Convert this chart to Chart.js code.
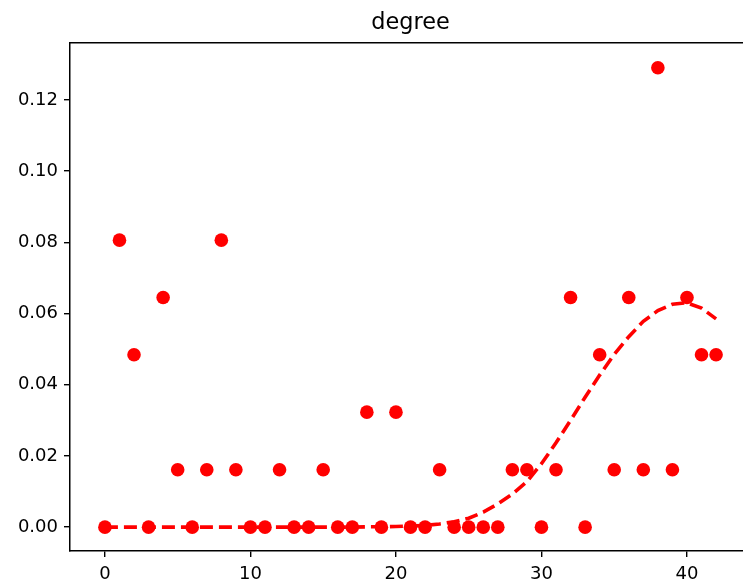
<!DOCTYPE html>
<html>
<head>
<meta charset="utf-8">
<script src="https://cdn.jsdelivr.net/npm/chart.js@4/dist/chart.umd.min.js"></script>
<style>
  html, body { margin: 0; padding: 0; background: #fff; overflow: hidden; }
  #wrap { position: relative; width: 760px; height: 583px; }
</style>
</head>
<body>
<div id="wrap"><canvas id="c"></canvas></div>
<script>
const degrees = [0,1,2,3,4,5,6,7,8,9,10,11,12,13,14,15,16,17,18,19,20,21,22,23,24,25,26,27,28,29,30,31,32,33,34,35,36,37,38,39,40,41,42];
const observed = [0,0.0806,0.0484,0,0.0645,0.0161,0,0.0161,0.0806,0.0161,0,0,0.0161,0,0,0.0161,0,0,0.0323,0,0.0323,0,0,0.0161,0,0,0,0,0.0161,0.0161,0,0.0161,0.0645,0,0.0484,0.0161,0.0645,0.0161,0.129,0.0161,0.0645,0.0484,0.0484];
const fitted = [0,0,0,0,0,0,0,0,0,0,0,0,0,0,0,0,0,0,0.0001,0.0001,0.0002,0.0003,0.0005,0.0009,0.0015,0.0025,0.0042,0.0065,0.0093,0.0128,0.0178,0.0237,0.0300,0.0365,0.0427,0.0485,0.0535,0.0578,0.0608,0.0626,0.0630,0.0615,0.0585];
const xTicks = [0,10,20,30,40];
const yTicks = [0,0.02,0.04,0.06,0.08,0.10,0.12];
const titleText = 'degree';

const FONT = 'DejaVu Sans';
const pts = degrees.map((d,i)=>({x:d, y:observed[i]}));
const fitPts = degrees.map((d,i)=>({x:d, y:fitted[i]}));

new Chart(document.getElementById('c'), {
  type: 'scatter',
  data: {
    datasets: [
      {
        label: 'fit',
        data: fitPts,
        showLine: true,
        borderColor: '#ff0000',
        borderWidth: 3.6,
        borderDash: [13, 6],
        pointRadius: 0,
        tension: 0,
        fill: false,
        order: 0
      },
      {
        label: 'observed',
        data: pts,
        backgroundColor: '#ff0000',
        borderColor: '#ff0000',
        borderWidth: 0,
        pointRadius: 6.8,
        pointHoverRadius: 6.8,
        order: 1
      }
    ]
  },
  options: {
    responsive: true,
    maintainAspectRatio: false,
    animation: false,
    layout: { padding: { left: 0, right: 9, top: 0, bottom: 0 } },
    plugins: {
      legend: { display: false },
      tooltip: { enabled: false },
      title: {
        display: true,
        fullSize: false,
        text: titleText,
        color: '#000',
        font: { family: FONT, size: 22.4, weight: 'normal' },
        padding: { top: 10, bottom: 6 }
      }
    },
    scales: {
      x: {
        type: 'linear',
        position: 'bottom',
        min: -2.4,
        max: 44.4,
        afterBuildTicks: (s) => { s.ticks = xTicks.map(v => ({ value: v })); },
        afterFit: (s) => { s.height = 32; },
        ticks: {
          color: '#000',
          font: { family: FONT, size: 18 },
          padding: 7,
          maxRotation: 0,
          callback: (v) => String(v)
        },
        grid: { display: true, drawOnChartArea: false, drawTicks: true, tickLength: 6, color: '#000', lineWidth: 1.4 },
        border: { display: true, color: '#000', width: 1.5 }
      },
      x2: {
        type: 'linear',
        position: 'top',
        min: -2.4,
        max: 44.4,
        afterFit: (s) => { s.height = 0; },
        ticks: { display: false },
        grid: { display: false },
        border: { display: true, color: '#000', width: 1.5 }
      },
      y: {
        type: 'linear',
        position: 'left',
        min: -0.0067,
        max: 0.136,
        afterBuildTicks: (s) => { s.ticks = yTicks.map(v => ({ value: v })); },
        afterFit: (s) => { s.width = 70; },
        ticks: {
          color: '#000',
          font: { family: FONT, size: 18 },
          padding: 6,
          callback: (v) => Number(v).toFixed(2)
        },
        grid: { display: true, drawOnChartArea: false, drawTicks: true, tickLength: 6, color: '#000', lineWidth: 1.4 },
        border: { display: true, color: '#000', width: 1.5 }
      }
    }
  }
});
</script>
</body>
</html>
